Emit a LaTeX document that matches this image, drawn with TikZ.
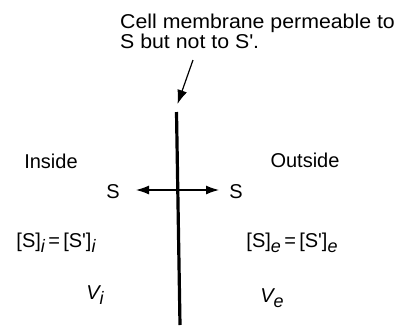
\documentclass[tikz,border=0pt]{standalone}
\usepackage{fontspec}
\setmainfont{Liberation Sans}
\newfontfamily\ttlfont[FakeStretch=1.065]{Liberation Sans}
\usetikzlibrary{arrows.meta}
\tikzset{
  lbl/.style={inner sep=0pt, font=\fontsize{20}{17}\selectfont},
  ttl/.style={inner sep=0pt, font=\ttlfont\fontsize{20}{18}\selectfont, text height=14pt, text depth=3pt},
  arr/.style={-{Latex[length=13pt,width=9pt]}, line width=1.2pt},
  memb/.style={line width=3.2pt}
}
\newcommand{\sub}[1]{\raisebox{-0.45ex}{\fontsize{18}{18}\selectfont\itshape #1}}
\begin{document}
\begin{tikzpicture}[x=1pt,y=-1pt]
\useasboundingbox (0,0) rectangle (397,325);
% title
\node[ttl, anchor=base west] (title1) at (120,28) {Cell membrane permeable to};
\node[ttl, anchor=base west] (title2) at (120,48) {S but not to S\textquotesingle.};
% pointer
\coordinate (ptail) at (193,60);
\coordinate (mtop) at (176.5,112);
\coordinate (mbot) at (180,325);
\draw[arr, -{Latex[length=14pt,width=10pt]}] (ptail) -- (177.5,104);
% membrane
\draw[memb] (mtop) -- (mbot);
% labels
\node[lbl] (inside) at (51,161) {Inside};
\node[lbl] (outside) at (305,160) {Outside};
\node[lbl] (sL) at (113,192) {S};
\node[lbl] (sR) at (236,192) {S};
\coordinate (cross) at (177.7,190);
\draw[arr] (cross) -- (136,190);
\draw[arr] (cross) -- (219,190);
\node[lbl] (ci) at (56,243) {[S]\sub{i}\,=\,[S\textquotesingle]\sub{i}};
\node[lbl] (ce) at (292,243) {[S]\sub{e}\,=\,[S\textquotesingle]\sub{e}};
\node[lbl] (vi) at (95,295) {\itshape V\sub{i}};
\node[lbl] (ve) at (272,298) {\itshape V\sub{e}};
\end{tikzpicture}
\end{document}
